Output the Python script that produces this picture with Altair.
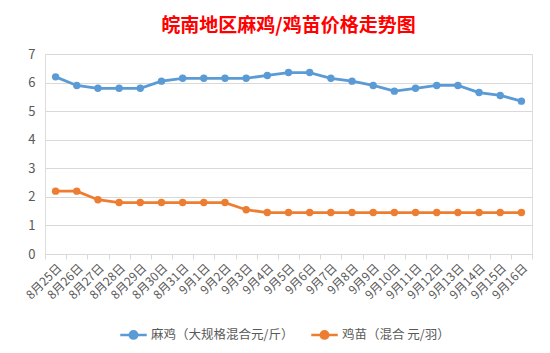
import altair as alt
import pandas as pd

dates = ["8月25日", "8月26日", "8月27日", "8月28日", "8月29日", "8月30日", "8月31日",
         "9月1日", "9月2日", "9月3日", "9月4日", "9月5日", "9月6日", "9月7日", "9月8日",
         "9月9日", "9月10日", "9月11日", "9月12日", "9月13日", "9月14日", "9月15日", "9月16日"]
maji = [6.2, 5.9, 5.8, 5.8, 5.8, 6.05, 6.15, 6.15, 6.15, 6.15, 6.25, 6.35, 6.35,
        6.15, 6.05, 5.9, 5.7, 5.8, 5.9, 5.9, 5.65, 5.55, 5.35]
jimiao = [2.2, 2.2, 1.9, 1.8, 1.8, 1.8, 1.8, 1.8, 1.8, 1.55, 1.45, 1.45, 1.45,
          1.45, 1.45, 1.45, 1.45, 1.45, 1.45, 1.45, 1.45, 1.45, 1.45]
series = ["麻鸡（大规格混合元/斤）", "鸡苗（混合 元/羽）"]
colors = ["#5B9BD5", "#ED7D31"]

rows = []
for d, v in zip(dates, maji):
    rows.append({"date": d, "series": series[0], "value": v})
for d, v in zip(dates, jimiao):
    rows.append({"date": d, "series": series[1], "value": v})
df = pd.DataFrame(rows)

font = "Noto Sans CJK SC"
sym = "M-1,0 L1,0 M-0.28,0 A0.28,0.28 0 1,1 0.28,0 A0.28,0.28 0 1,1 -0.28,0 Z"

x = alt.X("date:N", sort=dates, title=None,
          scale=alt.Scale(paddingInner=0, paddingOuter=0),
          axis=alt.Axis(labelAngle=-45, labelFontSize=12, labelColor="#595959",
                        labelFont=font, tickBand="extent", tickColor="#D9D9D9",
                        domainColor="#D9D9D9", tickSize=5, grid=False, labelPadding=3))
y = alt.Y("value:Q", title=None,
          scale=alt.Scale(domain=[0, 7]),
          axis=alt.Axis(values=[0, 1, 2, 3, 4, 5, 6, 7], labelFontSize=13,
                        labelColor="#595959", labelFont=font, domain=False, ticks=False,
                        gridColor="#D9D9D9", labelPadding=10))
color = alt.Color("series:N", scale=alt.Scale(domain=series, range=colors),
                  legend=alt.Legend(title=None, orient="none", direction="horizontal",
                                    legendX=74, legendY=266, symbolType=sym,
                                    symbolSize=700, symbolStrokeWidth=2.5,
                                    labelFont=font, labelFontSize=12.5,
                                    labelColor="#595959", columnPadding=12,
                                    labelOffset=3))

line = alt.Chart(df).mark_line(strokeWidth=2.8).encode(x=x, y=y, color=color)
pts = alt.Chart(df).mark_point(filled=True, size=55, opacity=1).encode(x=x, y=y, color=color)

chart = alt.layer(line, pts).properties(
    width=487, height=200,
    title=alt.TitleParams("皖南地区麻鸡/鸡苗价格走势图", color="#FF0000", fontSize=19,
                          font=font, fontWeight="bold", anchor="middle", offset=12),
    autosize="none",
    padding={"left": 45, "top": 54, "right": 18, "bottom": 99},
).configure_view(stroke=None).configure(background="white")

chart.save("out.html", embed_options={"renderer": "svg", "actions": False})
